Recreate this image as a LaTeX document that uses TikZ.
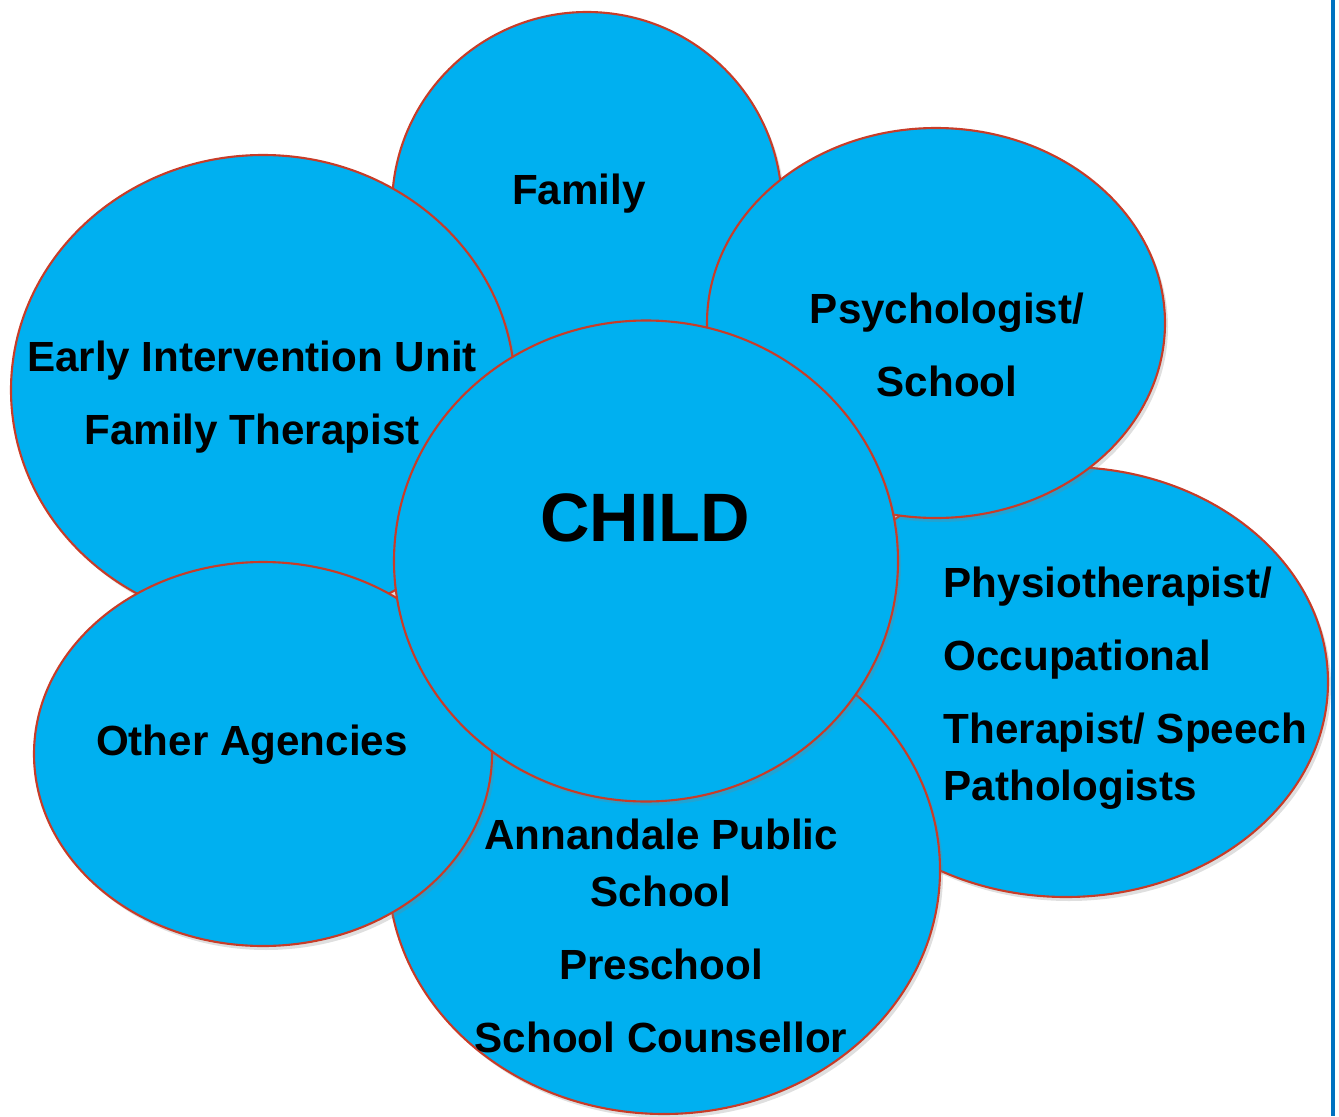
\documentclass[tikz,border=0pt]{standalone}
\usepackage{fontspec}
\setmainfont{Liberation Sans}
\usetikzlibrary{shapes.geometric, shadows}
\definecolor{petal}{RGB}{0,176,240}
\definecolor{rim}{RGB}{200,60,40}
\definecolor{edgebar}{RGB}{0,112,192}

\begin{document}
\begin{tikzpicture}[blob/.style={ellipse, draw=rim, line width=0.6pt, fill=petal, inner sep=0pt,
        drop shadow={shadow xshift=0.03cm, shadow yshift=-0.04cm, opacity=0.25}},
    lbl/.style={font=\fontsize{12}{16.2}\selectfont\bfseries, align=center, inner sep=0pt}]

    \useasboundingbox (0, 0) rectangle (13.39, 11.16);

    % petals, back to front
    \node at (5.87, 9.09) [blob, minimum width=3.9cm, minimum height=3.9cm] (family) {};
    \node at (2.63, 7.26) [blob, minimum width=5.04cm, minimum height=4.7cm] (early) {};
    \node at (10.66, 4.34) [blob, minimum width=5.24cm, minimum height=4.3cm] (physio) {};
    \node at (9.36, 7.93) [blob, minimum width=4.58cm, minimum height=3.9cm] (psych) {};
    \node at (6.64, 2.46) [blob, minimum width=5.52cm, minimum height=4.88cm] (school) {};
    \node at (2.63, 3.62) [blob, minimum width=4.58cm, minimum height=3.84cm] (other) {};
    \node at (6.46, 5.55) [blob, minimum width=5.04cm, minimum height=4.81cm] (child) {};

    % texts
    \node at (5.79, 9.22) [lbl] (familytxt) {Family};
    \node at (2.52, 7.19) [lbl] (earlytxt) {Early Intervention Unit\\[4.6pt] Family Therapist};
    \node at (9.47, 7.71) [lbl] (psychtxt) {Psychologist/\\[4.6pt] School};
    \node at (9.43, 4.28) [lbl, align=left, anchor=west] (physiotxt)
        {Physiotherapist/\\[4.6pt] Occupational\\[4.6pt] Therapist/ Speech\\ Pathologists};
    \node at (6.61, 1.80) [lbl] (schooltxt) {Annandale Public\\ School\\[4.6pt] Preschool\\[4.6pt] School Counsellor};
    \node at (2.52, 3.71) [lbl] (othertxt) {Other Agencies};
    \node at (6.45, 5.98) [lbl, font=\fontsize{19.5}{24}\selectfont\bfseries] (childtxt) {CHILD};

    \fill[edgebar] (13.31, 0) rectangle (13.35, 11.16);

\end{tikzpicture}
\end{document}
